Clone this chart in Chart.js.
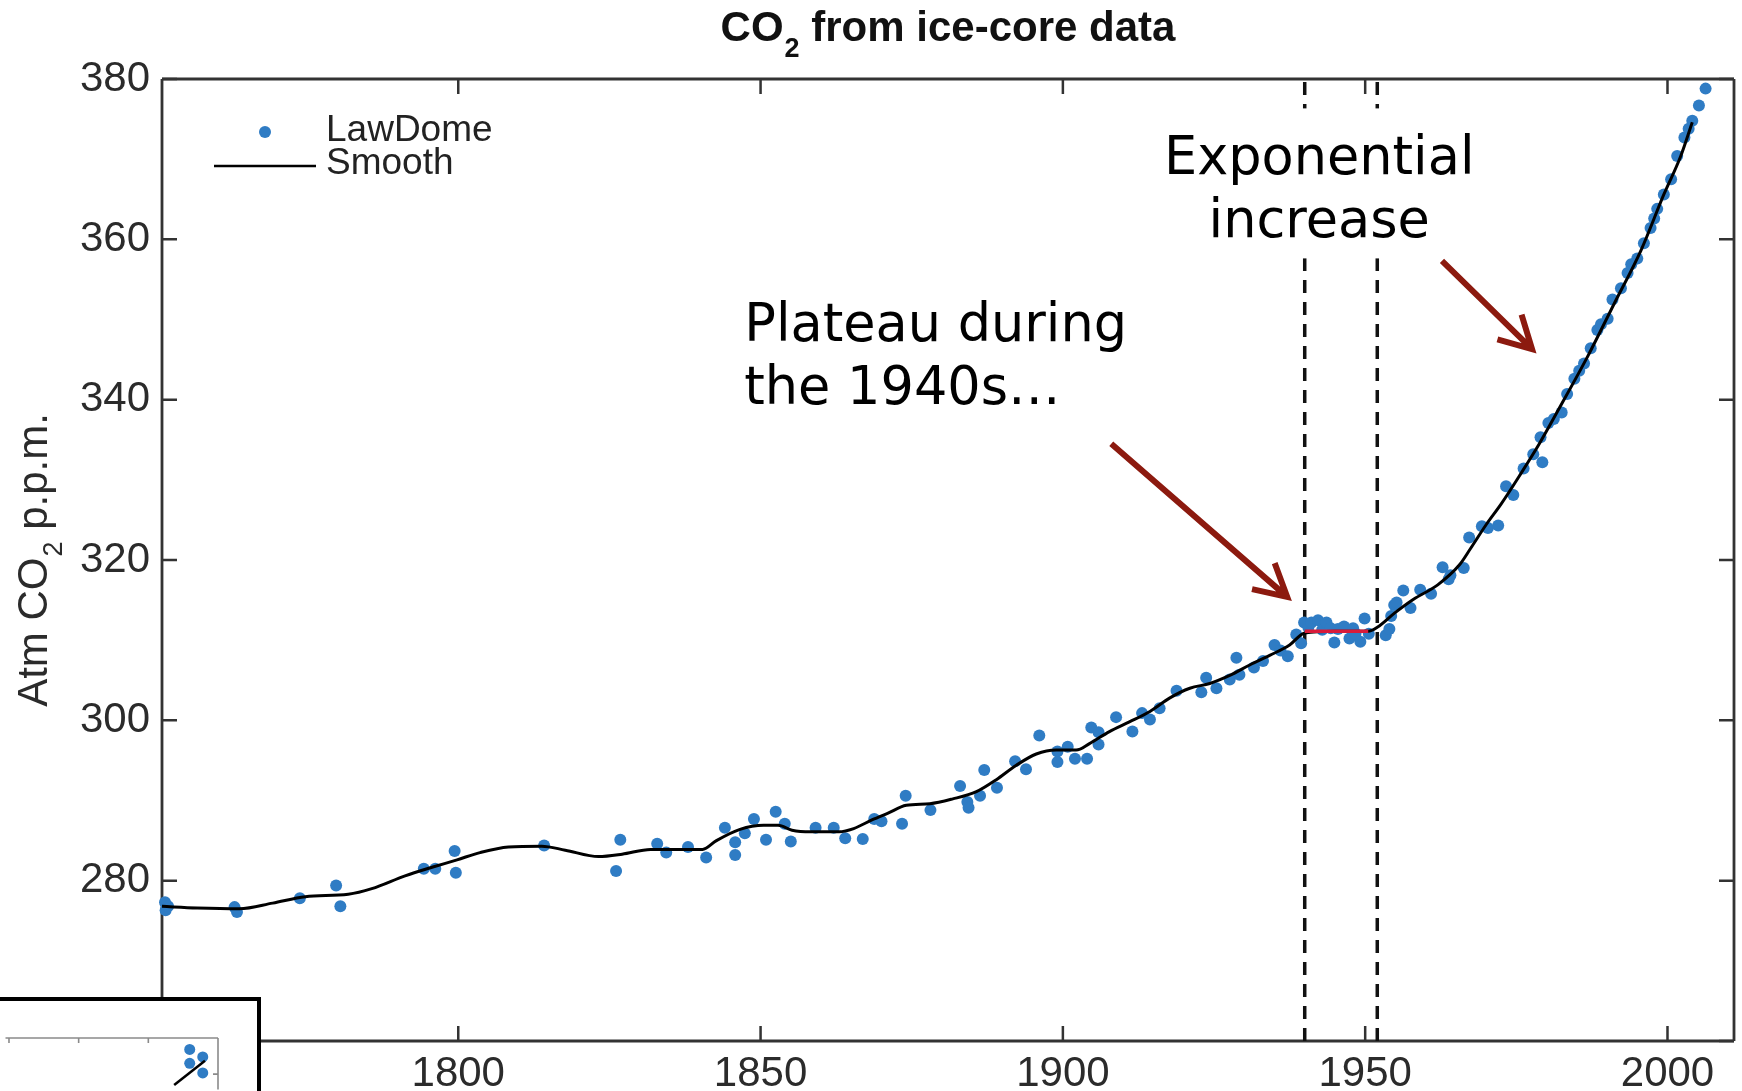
<!DOCTYPE html>
<html>
<head>
<meta charset="utf-8">
<title>CO2 from ice-core data</title>
<script src="https://cdn.jsdelivr.net/npm/chart.js@4.4.1/dist/chart.umd.min.js"></script>
<style>
  html, body { margin: 0; padding: 0; background: #fff; }
  #wrap { position: relative; width: 1742px; height: 1091px; overflow: hidden; }
  #main { position: absolute; left: 0; top: 0; }
  #inset { position: absolute; left: 0; top: 997px; width: 257px; height: 94px; background: #fff;
           border-top: 4px solid #000; border-right: 4px solid #000; }
  #inset canvas { display: block; }
</style>
</head>
<body>
<div id="wrap">
  <canvas id="main" width="1742" height="1091"></canvas>
  <div id="inset"><canvas id="insetCanvas" width="257" height="94"></canvas></div>
</div>
<script>
// --- Law Dome ice-core samples (year, ppm)
const lawDomeYears = [
  1751.5, 1751.6, 1752.0, 1763.0, 1763.4, 1773.8, 1779.8, 1780.5, 1794.3, 1796.2,
  1799.4, 1799.6, 1814.2, 1826.1, 1826.8, 1832.9, 1834.4, 1838.0, 1841.0, 1844.1,
  1845.8, 1845.8, 1847.4, 1848.9, 1850.9, 1852.5, 1854.0, 1855.0, 1859.1, 1862.1,
  1864.0, 1866.9, 1868.8, 1870.0, 1873.4, 1874.0, 1878.1, 1883.0, 1884.2, 1884.4,
  1886.3, 1887.0, 1889.1, 1892.1, 1893.9, 1896.1, 1899.1, 1899.1, 1900.8, 1902.0,
  1904.0, 1904.7, 1905.9, 1905.9, 1908.8, 1911.5, 1913.1, 1914.4, 1916.0, 1918.8,
  1922.9, 1923.7, 1925.4, 1927.6, 1928.7, 1929.2, 1931.6, 1933.1, 1935.0, 1936.0,
  1937.2, 1938.6, 1939.4, 1939.9, 1940.6, 1941.1, 1942.2, 1942.9, 1943.6, 1944.3,
  1944.9, 1945.5, 1946.5, 1947.4, 1948.0, 1948.4, 1949.2, 1949.9, 1950.6, 1953.4,
  1954.0, 1954.3, 1954.8, 1955.2, 1956.3, 1957.5, 1959.1, 1960.9, 1962.8, 1963.8,
  1964.1, 1966.3, 1967.2, 1969.3, 1970.3, 1972.0, 1973.3, 1974.5, 1976.2, 1977.8,
  1979.0, 1979.3, 1980.3, 1981.2, 1982.5, 1983.4, 1984.6, 1985.4, 1986.2, 1987.3,
  1988.4, 1989.0, 1990.1, 1990.9, 1992.3, 1993.4, 1994.0, 1995.0, 1996.1, 1997.2,
  1997.8, 1998.3, 1999.4, 2000.6, 2001.6, 2002.8, 2003.5, 2004.1, 2005.2, 2006.3
];
const lawDomeCO2 = [
  277.3, 276.3, 276.8, 276.7, 276.1, 277.8, 279.4, 276.8, 281.5, 281.5,
  283.7, 281.0, 284.4, 281.2, 285.1, 284.6, 283.5, 284.2, 282.9, 286.6,
  284.8, 283.2, 285.9, 287.7, 285.1, 288.6, 287.1, 284.9, 286.6, 286.6,
  285.3, 285.2, 287.7, 287.4, 287.1, 290.6, 288.8, 291.8, 289.8, 289.1,
  290.6, 293.8, 291.6, 294.9, 293.9, 298.1, 296.1, 294.8, 296.7, 295.2,
  295.2, 299.1, 297.0, 298.5, 300.4, 298.6, 300.9, 300.1, 301.5, 303.7,
  303.5, 305.3, 304.0, 305.1, 307.8, 305.7, 306.6, 307.4, 309.4, 308.7,
  308.0, 310.7, 309.6, 312.2, 311.6, 312.2, 312.5, 311.3, 312.2, 311.5,
  309.7, 311.4, 311.7, 310.2, 311.5, 310.8, 309.8, 312.7, 310.8, 310.6,
  311.4, 313.0, 314.4, 314.7, 316.2, 314.0, 316.3, 315.8, 319.1, 317.6,
  318.1, 319.0, 322.8, 324.2, 324.0, 324.3, 329.2, 328.1, 331.4, 333.2,
  335.3, 332.2, 337.1, 337.6, 338.4, 340.7, 342.6, 343.6, 344.5, 346.4,
  348.7, 349.4, 350.1, 352.5, 353.9, 355.8, 356.9, 357.6, 359.5, 361.4,
  362.6, 363.8, 365.6, 367.5, 370.4, 372.7, 373.8, 374.8, 376.7, 378.8
];

// --- smoothed curve through the samples
const smoothYears = [
  1751.0, 1756.8, 1763.8, 1769.3, 1774.7, 1781.8, 1785.7, 1791.2, 1795.8, 1799.8,
  1803.6, 1808.3, 1813.8, 1817.7, 1823.2, 1827.1, 1831.8, 1836.5, 1840.4, 1842.7,
  1846.6, 1850.5, 1852.9, 1855.2, 1858.3, 1863.0, 1865.4, 1868.5, 1871.0, 1874.1,
  1878.0, 1881.8, 1885.7, 1889.0, 1892.3, 1895.6, 1898.9, 1902.2, 1904.4, 1907.7,
  1911.0, 1914.4, 1917.7, 1921.0, 1924.3, 1927.6, 1930.9, 1934.2, 1937.5, 1940.0,
  1945.0, 1950.5, 1952.0, 1954.9, 1958.0, 1962.0, 1965.6, 1967.4, 1970.0, 1972.5,
  1975.6, 1978.8, 1982.3, 1986.8, 1991.2, 1995.6, 1999.4, 2002.2, 2004.1
];
const smoothCO2 = [
  276.8, 276.6, 276.5, 277.2, 278.0, 278.3, 279.0, 280.6, 281.7, 282.6,
  283.5, 284.2, 284.3, 283.8, 283.0, 283.3, 283.9, 283.9, 283.9, 285.0,
  286.4, 286.9, 286.9, 286.3, 286.1, 286.1, 286.5, 287.6, 288.4, 289.4,
  289.6, 290.2, 291.1, 292.6, 294.4, 295.8, 296.3, 296.3, 297.1, 298.6,
  299.8, 301.1, 302.8, 304.0, 304.6, 305.6, 306.9, 308.1, 309.4, 310.9,
  311.1, 311.1, 311.6, 313.4, 315.1, 316.9, 319.4, 321.4, 324.4, 327.0,
  330.6, 334.5, 339.2, 345.4, 352.0, 358.6, 365.6, 370.4, 374.6
];

// --- 1940s plateau segment and the window markers
const plateauYears = [1940.0, 1950.5];
const plateauCO2 = [311.1, 311.1];
const windowYears = [1940, 1952];

// --- axis ticks
const xTickYears = [1800, 1850, 1900, 1950, 2000];
const yTickPpm = [260, 280, 300, 320, 340, 360, 380];

// --- cropped neighbouring panel in the lower-left corner
const insetDotX = [2.594, 2.594, 2.781, 2.781];
const insetDotY = [0.683, 0.300, 0.475, 0.033];
const insetLineX = [2.371, 2.813];
const insetLineY = [-0.300, 0.368];
const insetXTicks = [0, 1, 2];
const insetYTicks = [0];

const BLUE = 'rgb(47,124,196)';
const DARK_RED = '#8c1a0f';
const SANS = "'Liberation Sans', Arial, Helvetica, sans-serif";
const NOTE_FONT = "'DejaVu Sans', Verdana, sans-serif";

const zip = (xs, ys) => xs.map((x, i) => ({ x: x, y: ys[i] }));

// box outline with inward tick marks on the requested sides
const frameTicks = {
  id: 'frameTicks',
  beforeDatasetsDraw(chart, args, opts) {
    const { ctx, chartArea: a, scales } = chart;
    const sides = opts.sides || ['top', 'right', 'bottom', 'left'];
    const len = opts.len || 10;
    ctx.save();
    ctx.strokeStyle = opts.color || '#333';
    ctx.lineWidth = opts.width || 2;
    ctx.lineCap = 'butt';
    ctx.beginPath();
    if (sides.includes('top')) { ctx.moveTo(a.left, a.top); ctx.lineTo(a.right, a.top); }
    if (sides.includes('bottom')) { ctx.moveTo(a.left, a.bottom); ctx.lineTo(a.right, a.bottom); }
    if (sides.includes('left')) { ctx.moveTo(a.left, a.top); ctx.lineTo(a.left, a.bottom); }
    if (sides.includes('right')) { ctx.moveTo(a.right, a.top); ctx.lineTo(a.right, a.bottom); }
    ctx.stroke();
    ctx.lineWidth = opts.tickWidth || ctx.lineWidth;
    ctx.beginPath();
    (opts.xTicks || []).forEach(v => {
      const px = scales.x.getPixelForValue(v);
      if (sides.includes('bottom')) { ctx.moveTo(px, a.bottom); ctx.lineTo(px, a.bottom - len); }
      if (sides.includes('top')) { ctx.moveTo(px, a.top); ctx.lineTo(px, a.top + len); }
    });
    (opts.yTicks || []).forEach(v => {
      const py = scales.y.getPixelForValue(v);
      if (sides.includes('left')) { ctx.moveTo(a.left, py); ctx.lineTo(a.left + len, py); }
      if (sides.includes('right')) { ctx.moveTo(a.right, py); ctx.lineTo(a.right - len, py); }
    });
    ctx.stroke();
    ctx.restore();
  }
};

function drawArrow(ctx, x0, y0, x1, y1, head, spread) {
  const ang = Math.atan2(y1 - y0, x1 - x0);
  ctx.beginPath();
  ctx.moveTo(x0, y0);
  ctx.lineTo(x1, y1);
  ctx.moveTo(x1 - head * Math.cos(ang - spread), y1 - head * Math.sin(ang - spread));
  ctx.lineTo(x1, y1);
  ctx.lineTo(x1 - head * Math.cos(ang + spread), y1 - head * Math.sin(ang + spread));
  ctx.stroke();
}

// draws "pre" + subscript + "post" starting at x
function subText(ctx, pre, sub, post, x, y, size, subSize, drop, weight) {
  ctx.font = weight + ' ' + size + 'px ' + SANS;
  ctx.fillText(pre, x, y);
  x += ctx.measureText(pre).width;
  ctx.font = weight + ' ' + subSize + 'px ' + SANS;
  ctx.fillText(sub, x + 1, y + drop);
  x += ctx.measureText(sub).width + 1;
  ctx.font = weight + ' ' + size + 'px ' + SANS;
  ctx.fillText(post, x, y);
}
function subWidth(ctx, pre, sub, post, size, subSize, weight) {
  ctx.font = weight + ' ' + size + 'px ' + SANS;
  let w = ctx.measureText(pre).width + ctx.measureText(post).width;
  ctx.font = weight + ' ' + subSize + 'px ' + SANS;
  return w + ctx.measureText(sub).width + 1;
}

// title, y-axis label and the legend box
const decorations = {
  id: 'decorations',
  afterDraw(chart) {
    const { ctx, chartArea: a } = chart;
    ctx.save();
    ctx.fillStyle = '#111';
    ctx.textBaseline = 'alphabetic';
    ctx.textAlign = 'left';

    const cx = (a.left + a.right) / 2;
    const tw = subWidth(ctx, 'CO', '2', ' from ice-core data', 42, 27, 'bold');
    subText(ctx, 'CO', '2', ' from ice-core data', cx - tw / 2, 41, 42, 27, 16, 'bold');

    ctx.save();
    ctx.fillStyle = '#2b2b2b';
    const cy = (a.top + a.bottom) / 2;
    ctx.translate(47, cy);
    ctx.rotate(-Math.PI / 2);
    const lw = subWidth(ctx, 'Atm CO', '2', ' p.p.m.', 42, 27, 'normal');
    subText(ctx, 'Atm CO', '2', ' p.p.m.', -lw / 2, 0, 42, 27, 15, 'normal');
    ctx.restore();

    const dots = chart.data.datasets[2];
    const line = chart.data.datasets[1];
    ctx.fillStyle = dots.pointBackgroundColor;
    ctx.beginPath();
    ctx.arc(265, 132, dots.pointRadius, 0, Math.PI * 2);
    ctx.fill();
    ctx.strokeStyle = line.borderColor;
    ctx.lineWidth = 2.6;
    ctx.beginPath();
    ctx.moveTo(214, 166);
    ctx.lineTo(316, 166);
    ctx.stroke();
    ctx.fillStyle = '#222';
    ctx.font = '37px ' + SANS;
    ctx.textBaseline = 'middle';
    ctx.fillText(dots.label, 326, 131);
    ctx.fillText(line.label, 326, 164);
    ctx.restore();
  }
};

// call-out texts and arrows, placed in data coordinates
const notes = [
  { lines: ['Plateau during', 'the 1940s\u2026'], x: 1847.3, y: 347.3, align: 'left', box: false },
  { lines: ['Exponential', 'increase'], x: 1942.4, y: 368.1, align: 'center', box: true }
];
const arrows = [
  { from: [1908.0, 334.5], to: [1937.1, 315.4] },
  { from: [1962.7, 357.3], to: [1977.6, 346.3] }
];

const callouts = {
  id: 'callouts',
  afterDatasetsDraw(chart) {
    const { ctx, scales } = chart;
    const X = v => scales.x.getPixelForValue(v);
    const Y = v => scales.y.getPixelForValue(v);
    ctx.save();
    ctx.font = '52.5px ' + NOTE_FONT;
    ctx.textBaseline = 'alphabetic';
    const lh = 63;
    notes.forEach(n => {
      const x = X(n.x), y = Y(n.y);
      if (n.box) {
        const w = Math.max(...n.lines.map(t => ctx.measureText(t).width));
        ctx.fillStyle = '#fff';
        ctx.fillRect(x - w / 2 - 14, y - 66, w + 28, 66 + lh * (n.lines.length - 1) + 21);
      }
      ctx.fillStyle = '#000';
      ctx.textAlign = n.align;
      n.lines.forEach((t, i) => ctx.fillText(t, x, y + i * lh));
    });
    ctx.strokeStyle = DARK_RED;
    ctx.lineWidth = 6;
    ctx.lineCap = 'butt';
    ctx.lineJoin = 'miter';
    arrows.forEach(r => drawArrow(ctx, X(r.from[0]), Y(r.from[1]), X(r.to[0]), Y(r.to[1]), 36, 0.5));
    ctx.restore();
  }
};

const tickFont = { family: SANS, size: 42 };

new Chart(document.getElementById('main'), {
  type: 'line',
  data: {
    datasets: [
      {
        label: 'Plateau',
        data: zip(plateauYears, plateauCO2),
        borderColor: '#d81b3a', borderWidth: 3.5, pointRadius: 0, order: 0
      },
      {
        label: 'Smooth',
        data: zip(smoothYears, smoothCO2),
        borderColor: '#000', borderWidth: 3, pointRadius: 0,
        cubicInterpolationMode: 'monotone', order: 1
      },
      {
        label: 'LawDome',
        data: zip(lawDomeYears, lawDomeCO2),
        showLine: false, pointRadius: 6, pointBackgroundColor: BLUE,
        pointBorderWidth: 0, borderColor: BLUE, clip: false, order: 2
      },
      ...windowYears.map(yr => ({
        label: 'window ' + yr,
        data: [{ x: yr, y: 260 }, { x: yr, y: 380 }],
        borderColor: '#111', borderWidth: 3.5, borderDash: [13, 9], pointRadius: 0, order: 3
      }))
    ]
  },
  options: {
    responsive: false,
    animation: false,
    devicePixelRatio: 1,
    events: [],
    layout: { padding: { top: 79, right: 8, left: 0, bottom: 0 } },
    scales: {
      x: {
        type: 'linear', min: 1751, max: 2011,
        afterBuildTicks: s => { s.ticks = xTickYears.map(v => ({ value: v })); },
        afterFit: s => { s.height = 50; },
        grid: { display: false, drawTicks: false },
        border: { display: false },
        ticks: { font: tickFont, color: '#2b2b2b', padding: 8, maxRotation: 0, callback: v => String(v) }
      },
      y: {
        type: 'linear', min: 260, max: 380,
        afterBuildTicks: s => { s.ticks = yTickPpm.map(v => ({ value: v })); },
        afterFit: s => { s.width = 162; },
        grid: { display: false, drawTicks: false },
        border: { display: false },
        ticks: { font: tickFont, color: '#2b2b2b', padding: 12, callback: v => String(v) }
      }
    },
    plugins: {
      legend: { display: false },
      tooltip: { enabled: false },
      title: { display: false },
      frameTicks: { xTicks: xTickYears, yTicks: yTickPpm, color: '#333', width: 2.8, tickWidth: 2.5, len: 15 }
    }
  },
  plugins: [frameTicks, callouts, decorations]
});

new Chart(document.getElementById('insetCanvas'), {
  type: 'line',
  data: {
    datasets: [
      { data: zip(insetLineX, insetLineY), borderColor: '#000', borderWidth: 2.5, pointRadius: 0, order: 0 },
      { data: zip(insetDotX, insetDotY), showLine: false, pointRadius: 5.5,
        pointBackgroundColor: BLUE, pointBorderWidth: 0, clip: false, order: 1 }
    ]
  },
  options: {
    responsive: false,
    animation: false,
    devicePixelRatio: 1,
    events: [],
    layout: { padding: { top: 37, right: 39, left: 0, bottom: 0 } },
    scales: {
      x: { type: 'linear', display: false, min: -0.05, max: 3.0 },
      y: { type: 'linear', display: false, min: -0.425, max: 1 }
    },
    plugins: {
      legend: { display: false },
      tooltip: { enabled: false },
      frameTicks: { sides: ['top', 'right'], xTicks: insetXTicks, yTicks: insetYTicks, color: '#8a8a8a', width: 1.6, len: 5 }
    }
  },
  plugins: [frameTicks]
});
</script>
</body>
</html>
